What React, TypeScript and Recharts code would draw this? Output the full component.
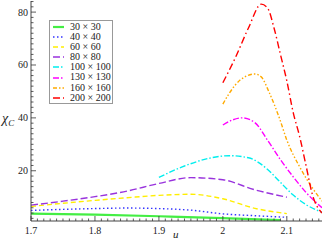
import React from "react";
import { LineChart, Line, XAxis, YAxis } from "recharts";

// lattice sizes and chi_C curves
const sizes = ["30 × 30", "40 × 40", "60 × 60", "80 × 80", "100 × 100", "130 × 130", "160 × 160", "200 × 200"];

const u30 = [1.7, 1.8, 1.9, 2.0, 2.09];
const chi30 = [3.8, 3.4, 2.8, 2.1, 1.3];

const u40 = [1.7, 1.75, 1.8, 1.85, 1.9, 1.95, 2.0, 2.05, 2.1];
const chi40 = [5.0, 5.4, 5.7, 5.9, 5.7, 5.1, 3.7, 3.0, 2.4];

const u60 = [1.7, 1.75, 1.8, 1.85, 1.9, 1.95, 2.0, 2.05, 2.1];
const chi60 = [6.5, 7.7, 8.8, 9.8, 10.7, 11.1, 9.4, 5.8, 3.8];

const u80 = [1.7, 1.75, 1.8, 1.85, 1.9, 1.95, 2.0, 2.05, 2.1];
const chi80 = [7.0, 8.5, 10.2, 12.3, 15.2, 17.4, 16.6, 12.8, 10.0];

const u100 = [1.9, 1.94, 1.98, 2.01, 2.04, 2.07, 2.09, 2.11, 2.13, 2.155];
const chi100 = [17.5, 21.8, 24.8, 25.7, 24.9, 20.5, 15.6, 10.8, 7.2, 4.3];

const u130 = [2.0, 2.015, 2.03, 2.05, 2.07, 2.09, 2.11, 2.13, 2.155];
const chi130 = [37.3, 39.2, 40.0, 38.2, 31.5, 24.2, 17.7, 11.8, 6.0];

const u160 = [2.0, 2.01, 2.027, 2.05, 2.06, 2.073, 2.089, 2.1, 2.12, 2.14, 2.155];
const chi160 = [45.2, 49.3, 54.3, 56.6, 55.5, 49.3, 39.5, 31.6, 21.5, 13.5, 8.5];

const u200 = [2.0, 2.02, 2.04, 2.06, 2.07, 2.08, 2.09, 2.1, 2.11, 2.12, 2.13, 2.14, 2.155];
const chi200 = [53.3, 63, 74, 83, 81.5, 74, 64, 54, 42, 33, 22, 11, 4];

const xMajor = [1.7, 1.8, 1.9, 2.0, 2.1];
const yMajor = [20, 40, 60, 80];

const toRows = (u: number[], v: number[]) => u.map((x, i) => ({ u: x, chi: v[i] }));

const series = [
  { rows: toRows(u30, chi30), color: "#44ee44", dash: undefined, width: 2.2 },
  { rows: toRows(u40, chi40), color: "#3333ff", dash: "1.5 2.5", width: 1.4 },
  { rows: toRows(u60, chi60), color: "#ffee00", dash: "5 3", width: 1.4 },
  { rows: toRows(u80, chi80), color: "#9933dd", dash: "7 3", width: 1.4 },
  { rows: toRows(u100, chi100), color: "#00eeee", dash: "6 2 1.5 2", width: 1.4 },
  { rows: toRows(u130, chi130), color: "#ff00ff", dash: "6 2 1.5 2", width: 1.4 },
  { rows: toRows(u160, chi160), color: "#ffaa00", dash: "4 2 1.5 2 1.5 2", width: 1.4 },
  { rows: toRows(u200, chi200), color: "#ff0000", dash: "7 3 1.5 3", width: 1.4 },
];

const xTicks: number[] = [];
for (let i = 170; i <= 215; i++) xTicks.push(i / 100);
const yTicks: number[] = [];
for (let i = 2; i <= 84; i += 2) yTicks.push(i);

const isMajorX = (v: number) => xMajor.some((m) => Math.abs(m - v) < 1e-6);
const isMajorY = (v: number) => yMajor.includes(v);

const font = "'Liberation Serif', 'DejaVu Serif', serif";

const BottomTick = ({ x, y, payload }: any) => {
  const major = isMajorX(payload.value);
  return (
    <g>
      <line x1={x} x2={x} y1={y} y2={y - (major ? 5 : 2.5)} stroke="#333" strokeWidth={0.8} />
      {major && (
        <text x={x} y={y + 13} textAnchor="middle" fontSize={10} fontFamily={font} fill="#222">
          {payload.value === 2 ? "2" : payload.value.toFixed(1)}
        </text>
      )}
    </g>
  );
};

const TopTick = ({ x, y, payload }: any) => {
  const major = isMajorX(payload.value);
  return <line x1={x} x2={x} y1={y} y2={y + (major ? 5 : 2.5)} stroke="#333" strokeWidth={0.8} />;
};

const LeftTick = ({ x, y, payload }: any) => {
  const major = isMajorY(payload.value);
  return (
    <g>
      <line x1={x} x2={x + (major ? 5 : 2.5)} y1={y} y2={y} stroke="#333" strokeWidth={0.8} />
      {major && (
        <text x={x - 3} y={y + 3.5} textAnchor="end" fontSize={10} fontFamily={font} fill="#222">
          {payload.value}
        </text>
      )}
    </g>
  );
};

const RightTick = ({ x, y, payload }: any) => {
  const major = isMajorY(payload.value);
  return <line x1={x} x2={x - (major ? 5 : 2.5)} y1={y} y2={y} stroke="#333" strokeWidth={0.8} />;
};

export default function App() {
  return (
    <div style={{ position: "absolute", left: 0, top: 0, width: 324, height: 241, background: "#fff" }}>
      <LineChart width={324} height={241} margin={{ top: 1, right: 2, bottom: 0, left: 0 }}>
        <XAxis
          xAxisId="b"
          dataKey="u"
          type="number"
          domain={[1.7, 2.155]}
          ticks={xTicks}
          interval={0}
          height={20}
          tickSize={0}
          tickMargin={0}
          tickLine={false}
          axisLine={{ stroke: "#444" }}
          tick={<BottomTick />}
          allowDataOverflow
        />
        <XAxis
          xAxisId="t"
          orientation="top"
          dataKey="u"
          type="number"
          domain={[1.7, 2.155]}
          ticks={xTicks}
          interval={0}
          height={0}
          tickSize={0}
          tickMargin={0}
          tickLine={false}
          axisLine={{ stroke: "#444" }}
          tick={<TopTick />}
          allowDataOverflow
        />
        <YAxis
          yAxisId="l"
          type="number"
          domain={[1, 84.2]}
          ticks={yTicks}
          interval={0}
          width={31}
          tickSize={0}
          tickMargin={0}
          tickLine={false}
          axisLine={{ stroke: "#444" }}
          tick={<LeftTick />}
          allowDataOverflow
        />
        <YAxis
          yAxisId="r"
          orientation="right"
          type="number"
          domain={[1, 84.2]}
          ticks={yTicks}
          interval={0}
          width={0}
          tickSize={0}
          tickMargin={0}
          tickLine={false}
          axisLine={{ stroke: "#444" }}
          tick={<RightTick />}
          allowDataOverflow
        />
        {series.map((s, i) => (
          <Line
            key={sizes[i]}
            xAxisId="b"
            yAxisId="l"
            data={s.rows}
            dataKey="chi"
            type="monotone"
            stroke={s.color}
            strokeWidth={s.width}
            strokeDasharray={s.dash}
            dot={false}
            isAnimationActive={false}
          />
        ))}
      </LineChart>

      <div
        style={{
          position: "absolute",
          left: 49,
          top: 20,
          width: 62,
          height: 81,
          border: "1px solid #999",
          background: "#fff",
          fontFamily: font,
          fontSize: 10,
          lineHeight: "10.1px",
          paddingTop: 1,
        }}
      >
        {series.map((s, i) => (
          <div key={sizes[i]} style={{ display: "flex", alignItems: "center", height: 10.1 }}>
            <svg width={16} height={6} style={{ marginLeft: 2, marginRight: 2 }}>
              <line x1={1} x2={12} y1={3} y2={3} stroke={s.color} strokeWidth={s.width} strokeDasharray={s.dash} />
            </svg>
            <span style={{ color: "#222", whiteSpace: "nowrap" }}>{sizes[i]}</span>
          </div>
        ))}
      </div>

      <div style={{ position: "absolute", left: 2, top: 111, fontFamily: font, fontSize: 14, fontStyle: "italic", color: "#222" }}>
        χ<sub style={{ fontSize: 9, verticalAlign: "-3px" }}>C</sub>
      </div>
      <div style={{ position: "absolute", left: 173, top: 228, fontFamily: font, fontSize: 11, fontStyle: "italic", color: "#222" }}>
        u
      </div>
    </div>
  );
}
